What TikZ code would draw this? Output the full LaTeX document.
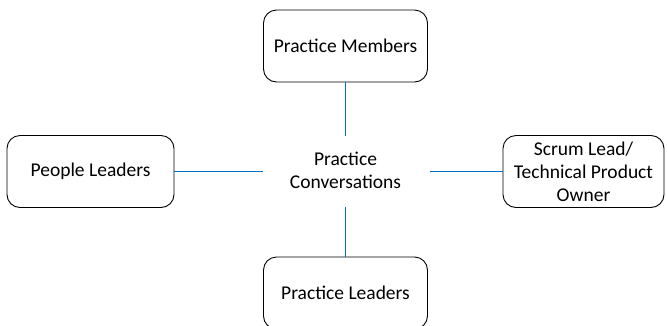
\documentclass[tikz,border=0pt]{standalone}
\usepackage{fontspec}
\setmainfont{Carlito}
\usetikzlibrary{positioning}
\definecolor{linkblue}{RGB}{0,112,192}
\tikzset{
  role/.style={draw=black,line width=0.9pt,rounded corners=13pt,inner sep=0pt,outer sep=0pt,
    minimum height=72pt,align=center,font=\fontsize{19.5}{23}\selectfont},
  link/.style={draw=linkblue,line width=1.1pt}
}

\begin{document}
\begin{tikzpicture}[x=1pt,y=-1pt]
    \useasboundingbox (0,0) rectangle (667,325);
    \begin{scope}
    \clip (0,0) rectangle (667,325);
    \node[role,minimum width=164pt] (leaders) at (345.5,293) {Practice Leaders};
    \end{scope}
    \node[align=center,font=\fontsize{19.5}{23}\selectfont] (conv) at (345.5,170) {Practice\\Conversations};
    \node[role,minimum width=164pt] (members) at (345.5,46) {Practice Members};
    \node[role,minimum width=167pt] (people) at (90.5,171.5) {People Leaders};
    \node[role,minimum width=161pt] (scrum) at (583.5,171.5) {Scrum Lead/\\Technical Product\\Owner};
    \coordinate (cn) at (345.5,136);
    \coordinate (cs) at (345.5,207);
    \coordinate (cw) at (263,171.5);
    \coordinate (ce) at (430,171.5);
    \draw[link] (members.south) -- (cn);
    \draw[link] (cs) -- (leaders.north);
    \draw[link] (people.east) -- (cw);
    \draw[link] (ce) -- (scrum.west);
  \end{tikzpicture}
\end{document}
